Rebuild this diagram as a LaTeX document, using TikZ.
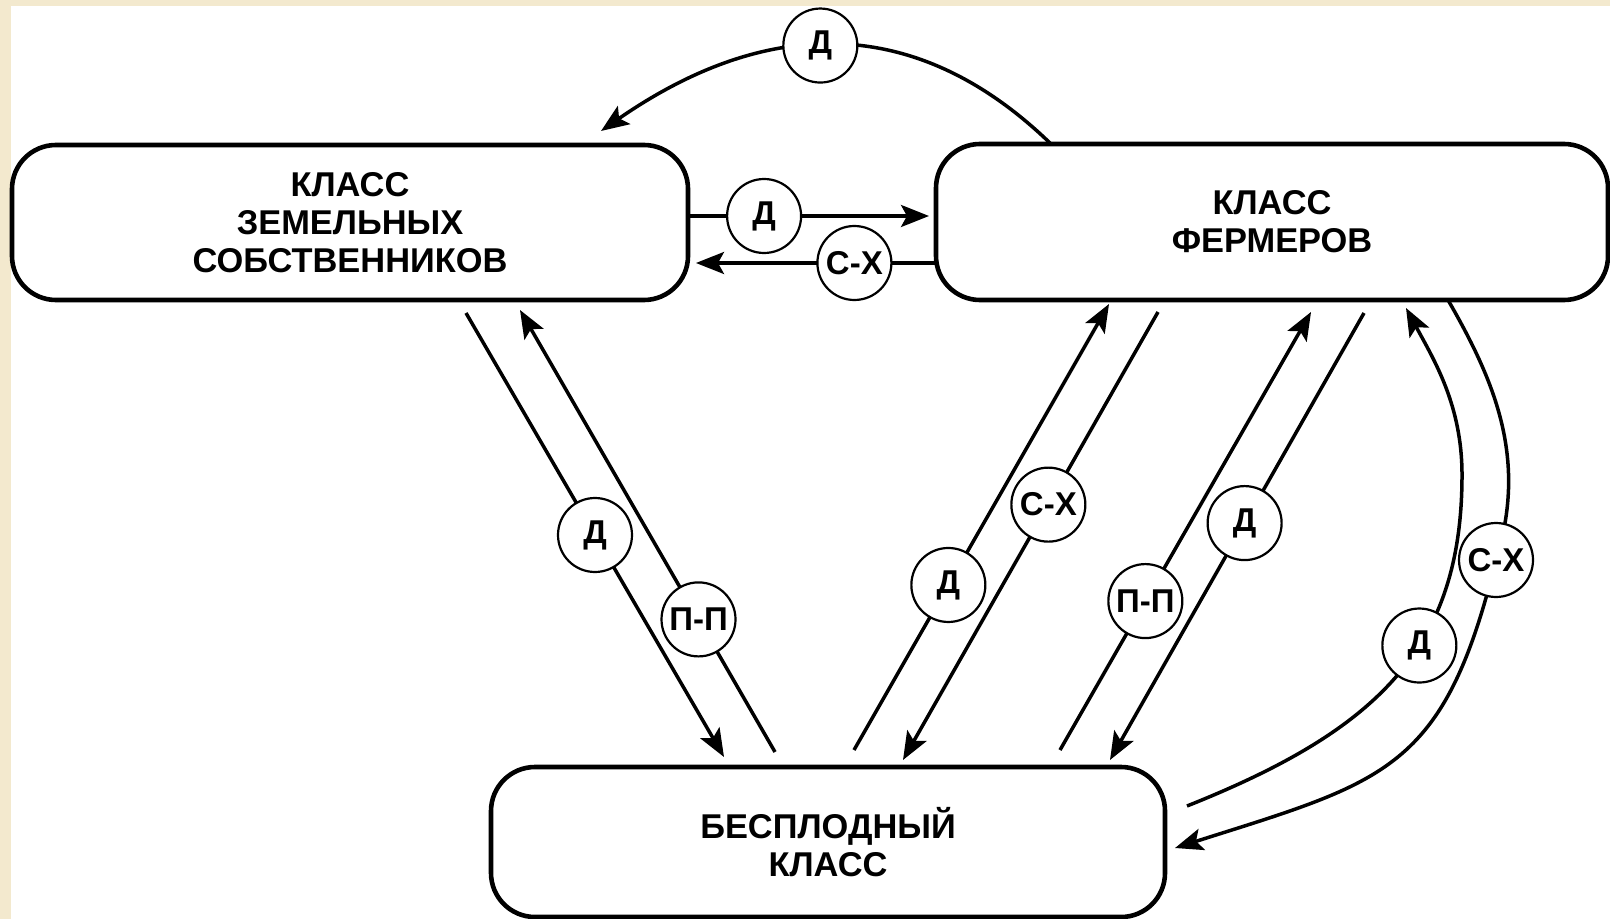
\documentclass[tikz,border=0pt]{standalone}
\usepackage{fontspec}
\setmainfont{Liberation Sans}
\usetikzlibrary{arrows.meta}
\definecolor{paper}{RGB}{243,233,206}
\begin{document}
\begin{tikzpicture}[x=0.5pt,y=-0.5pt,
  klass/.style={draw, line width=2.3pt, rounded corners=22pt, fill=white, align=center,
    inner sep=0pt, font=\fontsize{17.2}{19}\selectfont\bfseries},
  lbl/.style={circle, draw, line width=1.1pt, fill=white, minimum size=37pt, inner sep=0pt,
    font=\fontsize{16.5}{18}\selectfont\bfseries},
  arr/.style={line width=1.75pt, -{Stealth[length=14pt,width=11pt,inset=3pt]}},
  ln/.style={line width=1.75pt}]
\useasboundingbox (0,0) rectangle (1610,919);
\fill[paper] (0,0) rectangle (1610,919);
\fill[white] (11,6) rectangle (1610,919);

% classes
\node[klass, minimum width=338pt, minimum height=77.5pt] (L) at (350,222.5)
  {КЛАСС\\ЗЕМЕЛЬНЫХ\\СОБСТВЕННИКОВ};
\node[klass, minimum width=336pt, minimum height=78pt] (R) at (1272,222)
  {КЛАСС\\ФЕРМЕРОВ};
\node[klass, minimum width=337pt, minimum height=75pt] (B) at (828,842)
  {БЕСПЛОДНЫЙ\\КЛАСС};

% free ends of connectors
\coordinate (topS) at (1051,144);
\coordinate (topE) at (601,131);
\coordinate (hDs) at (690,216);
\coordinate (hDe) at (929,216);
\coordinate (hCs) at (936,263);
\coordinate (hCe) at (696,263);
\coordinate (a1s) at (466,313);
\coordinate (a1e) at (724,757);
\coordinate (a2s) at (775,752);
\coordinate (a2e) at (520,310);
\coordinate (a3s) at (854,750);
\coordinate (a3e) at (1109,304);
\coordinate (a4s) at (1158,312);
\coordinate (a4e) at (903,760);
\coordinate (a5s) at (1060,750);
\coordinate (a5e) at (1311,312);
\coordinate (a6s) at (1364,313);
\coordinate (a6e) at (1110,760);
\coordinate (c1s) at (1187,806);
\coordinate (c1m) at (1462,475);
\coordinate (c1e) at (1406,308);
\coordinate (c2s) at (1448,300);
\coordinate (c2m) at (1496,560);
\coordinate (c2e) at (1175,848);

% top arc R -> L
\draw[arr] (topS) .. controls (912,9) and (761,20) .. (topE)
  node[lbl, pos=0.53] (t1) {Д};

% horizontal pair
\draw[arr] (hDs) -- (hDe) node[lbl, pos=0.31] (h1) {Д};
\draw[arr] (hCs) -- (hCe) node[lbl, pos=0.34] (h2) {С-Х};

% L <-> B
\draw[arr] (a1s) -- (a1e) node[lbl, pos=0.50] (l1) {Д};
\draw[arr] (a2s) -- (a2e) node[lbl, pos=0.30] (l2) {П-П};

% B <-> R (middle)
\draw[arr] (a3s) -- (a3e) node[lbl, pos=0.37] (m1) {Д};
\draw[arr] (a4s) -- (a4e) node[lbl, pos=0.43] (m2) {С-Х};

% B <-> R (right)
\draw[arr] (a5s) -- (a5e) node[lbl, pos=0.34] (r1) {П-П};
\draw[arr] (a6s) -- (a6e) node[lbl, pos=0.47] (r2) {Д};

% curved pair
\draw[arr] (c1s) .. controls (1375,731) and (1462,650) .. (c1m)
  node[lbl, pos=0.6] (k1) {Д}
  .. controls (1462,405) and (1434,360) .. (c1e);
\draw[arr] (c2s) .. controls (1497,385) and (1527,461) .. (c2m)
  .. controls (1444,771) and (1386,781) .. (c2e);
\node[lbl] (k2) at (c2m) {С-Х};
\end{tikzpicture}
\end{document}
